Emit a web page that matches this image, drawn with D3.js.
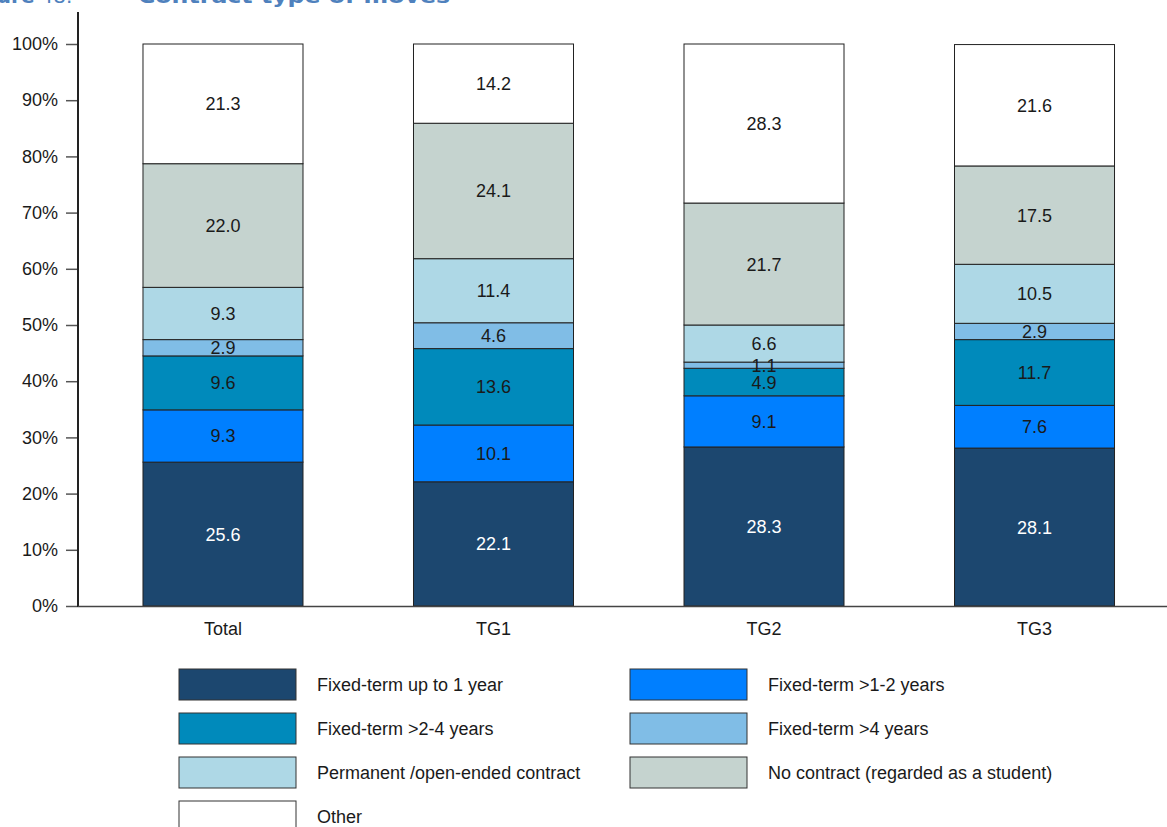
<!DOCTYPE html>
<html><head><meta charset="utf-8">
<script src="https://cdn.jsdelivr.net/npm/d3@7"></script>
<style>body{margin:0;background:#fff}svg{display:block}</style>
</head><body>
<svg id="chart" width="1167" height="827"></svg>
<script>
// contract type of moves -- stacked 100% bars
const groups = ["Total","TG1","TG2","TG3"];
const seriesNames = [
  "Fixed-term up to 1 year","Fixed-term >1-2 years","Fixed-term >2-4 years",
  "Fixed-term >4 years","Permanent /open-ended contract",
  "No contract (regarded as a student)","Other"
];
const seriesColors = ["#1c476f","#007fff","#008abb","#80bde6","#aed8e6","#c5d3cf","#ffffff"];
const labelColors  = ["#ffffff","#1a1a1a","#1a1a1a","#1a1a1a","#1a1a1a","#1a1a1a","#1a1a1a"];
const values = [
  [25.6, 9.3, 9.6, 2.9, 9.3, 22.0, 21.3],
  [22.1,10.1,13.6, 4.6,11.4, 24.1, 14.2],
  [28.3, 9.1, 4.9, 1.1, 6.6, 21.7, 28.3],
  [28.1, 7.6,11.7, 2.9,10.5, 17.5, 21.6]
];
const yTicks = [0,10,20,30,40,50,60,70,80,90,100];

const svg = d3.select("#chart");
const FONT = "'Liberation Sans', Arial, sans-serif";
const FS = "18px";

const y = d3.scaleLinear().domain([0,100]).range([606,44]);
const x = d3.scaleBand().domain(groups).range([87.75,1169.75]).paddingInner(0.4085).paddingOuter(0.2042);

// title (cut at top, as in the source figure)
const t = svg.append("text").attr("y",3).attr("fill","#4f81bd")
  .style("font-family","'DejaVu Sans', Verdana, sans-serif").style("font-size","20px");
t.append("tspan").attr("x",-38).style("font-weight","bold").text("Figure");
t.append("tspan").attr("dx",6).text("48.");
svg.append("text").attr("x",138).attr("y",3).attr("fill","#4f81bd")
  .attr("textLength",312).attr("lengthAdjust","spacingAndGlyphs")
  .style("font-family","'DejaVu Sans', Verdana, sans-serif").style("font-size","20px").style("font-weight","bold")
  .text("Contract type of moves");

// stacked bars
groups.forEach((g,gi)=>{
  let acc = 0;
  values[gi].forEach((v,si)=>{
    const y0 = acc, y1 = Math.min(acc + v, 100);
    acc += v;
    svg.append("rect")
      .attr("x",x(g)).attr("width",x.bandwidth())
      .attr("y",y(y1)).attr("height",y(y0)-y(y1))
      .attr("fill",seriesColors[si]).attr("stroke","#222").attr("stroke-width",1);
  });
});
// labels on top of segments
groups.forEach((g,gi)=>{
  let acc = 0;
  values[gi].forEach((v,si)=>{
    const mid = acc + v/2;
    acc += v;
    svg.append("text").attr("x",x(g)+x.bandwidth()/2).attr("y",y(mid)+6.5)
      .attr("text-anchor","middle").attr("fill",labelColors[si])
      .style("font-family",FONT).style("font-size",FS)
      .text(v.toFixed(1));
  });
});

// y axis
svg.append("g").attr("transform","translate(78,0)")
  .call(d3.axisLeft(y).tickValues(yTicks).tickFormat(d=>d+"%").tickSize(12).tickPadding(8))
  .call(a=>a.select(".domain").remove())
  .call(a=>a.selectAll("line").attr("stroke","#555").attr("stroke-width",1.5))
  .call(a=>a.selectAll("text").attr("fill","#1a1a1a").style("font-family",FONT).style("font-size",FS));
svg.append("line").attr("x1",78).attr("x2",78).attr("y1",12).attr("y2",607)
  .attr("stroke","#222").attr("stroke-width",2);

// x axis
svg.append("line").attr("x1",78).attr("x2",1167).attr("y1",606.5).attr("y2",606.5)
  .attr("stroke","#444").attr("stroke-width",1.5);
svg.append("g").attr("transform","translate(0,606)")
  .call(d3.axisBottom(x).tickSize(0).tickPadding(16))
  .call(a=>a.select(".domain").remove())
  .call(a=>a.selectAll("text").attr("fill","#1a1a1a").style("font-family",FONT).style("font-size",FS));

// legend
const leg = svg.append("g");
seriesNames.forEach((n,i)=>{
  const col = i%2, row = Math.floor(i/2);
  const lx = col===0 ? 179 : 630, ly = 669 + row*44;
  leg.append("rect").attr("x",lx).attr("y",ly).attr("width",117).attr("height",31)
    .attr("fill",seriesColors[i]).attr("stroke","#333").attr("stroke-width",1);
  leg.append("text").attr("x",lx+138).attr("y",ly+22)
    .attr("fill","#1a1a1a").style("font-family",FONT).style("font-size",FS).text(n);
});
</script>
</body></html>
